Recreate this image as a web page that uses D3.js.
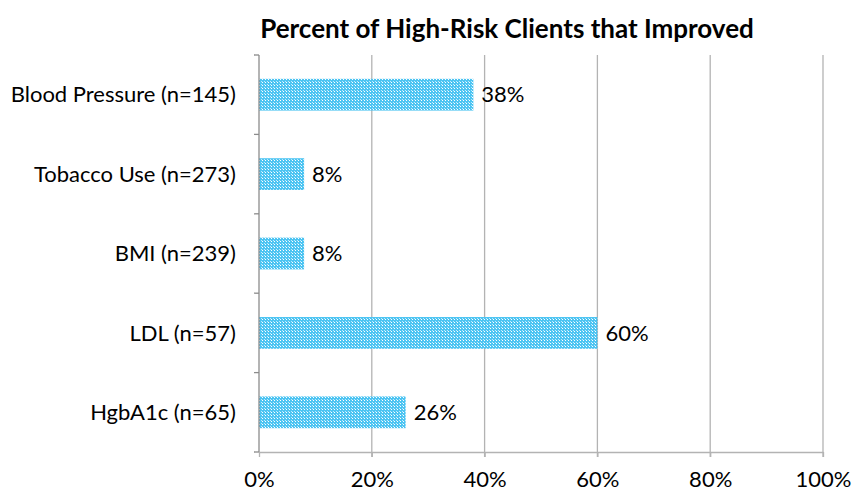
<!DOCTYPE html>
<html>
<head>
<meta charset="utf-8">
<script src="https://cdn.jsdelivr.net/npm/d3@7"></script>
<style>
  body { margin: 0; background: #fff; }
  text { font-family: Lato, "Open Sans", sans-serif; fill: #000; }
</style>
</head>
<body>
<div id="chart"></div>
<script>
const categories = ['Blood Pressure (n=145)', 'Tobacco Use (n=273)', 'BMI (n=239)', 'LDL (n=57)', 'HgbA1c (n=65)'];
const values     = [38, 8, 8, 60, 26];
const xTicks     = [0, 20, 40, 60, 80, 100];

const width  = 852,
      height = 493,
      margin = {top: 55, right: 29, bottom: 41, left: 259},
      fontSz = 22;

const svg = d3.select('#chart').append('svg')
  .attr('width', width)
  .attr('height', height);

// checker fill like the Excel pattern
const defs = svg.append('defs');
const pat = defs.append('pattern')
  .attr('id', 'dots')
  .attr('patternUnits', 'userSpaceOnUse')
  .attr('width', 3)
  .attr('height', 3);
pat.append('rect').attr('width', 3).attr('height', 3).attr('fill', '#4cc4f2');
pat.append('rect').attr('x', 1).attr('y', 1).attr('width', 1).attr('height', 1).attr('fill', '#ffffff');
pat.append('rect').attr('x', 0).attr('y', 0).attr('width', 1).attr('height', 1).attr('fill', '#bfe9fb');

const x = d3.scaleLinear()
  .domain([0, 100])
  .range([margin.left, width - margin.right]);

const y = d3.scaleBand()
  .domain(categories)
  .range([margin.top, height - margin.bottom])
  .paddingInner(0.6)
  .paddingOuter(0.3);

// title
svg.append('text')
  .attr('x', 507)
  .attr('y', 38)
  .attr('text-anchor', 'middle')
  .style('font-size', '26px')
  .style('font-weight', 'bold')
  .text('Percent of High-Risk Clients that Improved');

// gridlines
svg.append('g')
  .selectAll('line')
  .data(xTicks.slice(1))
  .join('line')
  .attr('x1', d => x(d)).attr('x2', d => x(d))
  .attr('y1', margin.top).attr('y2', height - margin.bottom + 5)
  .attr('stroke', '#b3b3b3')
  .attr('stroke-width', 1.3);

// bars
svg.append('g')
  .selectAll('rect')
  .data(values)
  .join('rect')
  .attr('x', x(0))
  .attr('y', (d, i) => y(categories[i]))
  .attr('width', d => x(d) - x(0))
  .attr('height', y.bandwidth())
  .attr('fill', 'url(#dots)');

// value labels
svg.append('g')
  .selectAll('text')
  .data(values)
  .join('text')
  .attr('x', d => x(d) + 8)
  .attr('y', (d, i) => y(categories[i]) + y.bandwidth() / 2)
  .attr('dy', '0.35em')
  .style('font-size', fontSz + 'px')
  .text(d => d + '%');

// x axis
const xAxis = svg.append('g')
  .attr('transform', `translate(0,${height - margin.bottom})`)
  .call(d3.axisBottom(x).tickValues(xTicks).tickFormat(d => d + '%').tickSize(5).tickSizeOuter(0));
xAxis.select('.domain').attr('stroke', '#b3b3b3').attr('stroke-width', 1.3);
xAxis.selectAll('.tick line').attr('stroke', '#b3b3b3').attr('stroke-width', 1.3);
xAxis.selectAll('.tick text')
  .attr('y', 19)
  .style('font-size', fontSz + 'px')
  .style('font-family', 'Lato, "Open Sans", sans-serif');

// y axis
const yStep = (height - margin.bottom - margin.top) / categories.length;
const yAxis = svg.append('g');
yAxis.append('line')
  .attr('x1', x(0)).attr('x2', x(0))
  .attr('y1', margin.top).attr('y2', height - margin.bottom)
  .attr('stroke', '#8c8c8c').attr('stroke-width', 1.3);
yAxis.selectAll('line.tk')
  .data(d3.range(categories.length + 1))
  .join('line')
  .attr('class', 'tk')
  .attr('x1', x(0) - 5).attr('x2', x(0))
  .attr('y1', i => margin.top + i * yStep).attr('y2', i => margin.top + i * yStep)
  .attr('stroke', '#8c8c8c').attr('stroke-width', 1.3);
yAxis.selectAll('text')
  .data(categories)
  .join('text')
  .attr('x', x(0) - 23)
  .attr('y', d => y(d) + y.bandwidth() / 2)
  .attr('dy', '0.35em')
  .attr('text-anchor', 'end')
  .style('font-size', fontSz + 'px')
  .text(d => d);
</script>
</body>
</html>
